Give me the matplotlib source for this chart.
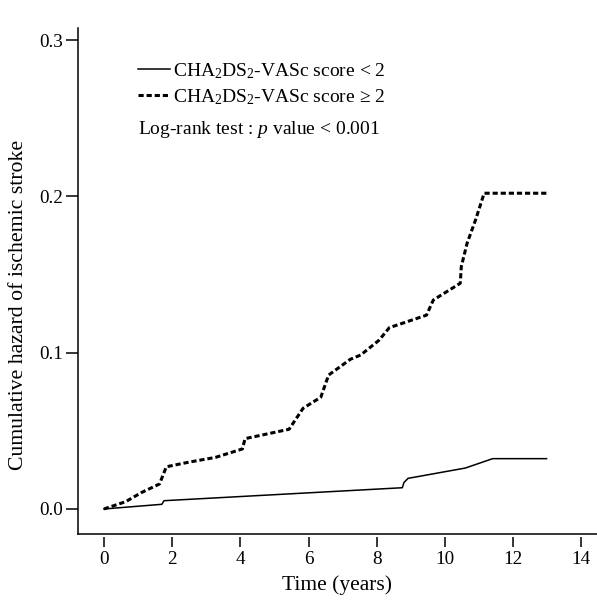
import matplotlib
matplotlib.use("Agg")
import matplotlib.pyplot as plt
from matplotlib.lines import Line2D

plt.rcParams['font.family'] = ['Liberation Serif', 'DejaVu Serif']
plt.rcParams['mathtext.fontset'] = 'custom'
plt.rcParams['mathtext.rm'] = 'Liberation Serif'
plt.rcParams['mathtext.it'] = 'Liberation Serif:italic'

# cumulative hazard, CHA2DS2-VASc < 2
low_t = [0, 1.70, 1.76, 8.75, 8.80, 8.92, 10.6, 11.4, 12.98]
low_v = [0, 0.003, 0.0053, 0.0136, 0.0170, 0.0196, 0.0262, 0.0322, 0.0322]

# cumulative hazard, CHA2DS2-VASc >= 2
high_t = [0, 0.64, 1.09, 1.63, 1.83, 2.5, 3.27, 4.06, 4.14, 5.43, 5.84, 6.36,
          6.59, 7.23, 7.53, 8.07, 8.37, 9.46, 9.66, 10.45, 10.48, 10.65, 10.9,
          11.15, 12.98]
high_v = [0, 0.0047, 0.0104, 0.016, 0.027, 0.030, 0.033, 0.0384, 0.045, 0.051,
          0.0644, 0.0715, 0.0857, 0.0958, 0.0985, 0.108, 0.116, 0.124, 0.1337,
          0.1444, 0.155, 0.170, 0.185, 0.202, 0.202]

xticks = [0, 2, 4, 6, 8, 10, 12, 14]
yticks = [0.0, 0.1, 0.2, 0.3]

fig = plt.figure(figsize=(5.97, 6.01), dpi=100)
ax = fig.add_axes([78/597, 67/601, 519/597, 506/601])

ax.plot(low_t, low_v, color='black', lw=1.1, solid_joinstyle='round')
ax.plot(high_t, high_v, color='black', lw=2.2, dashes=(1.7, 0.95))

ax.set_xlim(-0.76, 14.46)
ax.set_ylim(-0.016, 0.3077)
ax.set_xticks(xticks)
ax.set_yticks(yticks)
ax.set_yticklabels(["{:0.1f}".format(v) for v in yticks])

for s in ['top', 'right']:
    ax.spines[s].set_visible(False)
ax.spines['left'].set_linewidth(1.1)
# x ticks sit a little below the frame line
ax.spines['bottom'].set_visible(False)
ax.spines['bottom'].set_position(('outward', 2))
ax.plot([0, 1], [0, 0], transform=ax.transAxes, color='black', lw=1.1,
        clip_on=False)

ax.tick_params(axis='both', direction='out', width=1.1, labelsize=13.8,
               colors='black')
ax.tick_params(axis='y', length=9, pad=1.5)
ax.tick_params(axis='x', length=7.5, pad=3)

ax.set_xlabel("Time (years)", fontsize=15.5, labelpad=5)
ax.set_ylabel("Cumulative hazard of ischemic stroke", fontsize=15.7, labelpad=8)
ax.yaxis.label.set_y(0.453)

handles = [Line2D([], [], color='black', lw=1.1),
           Line2D([], [], color='black', lw=2.2, dashes=(1.7, 0.95))]
labels = ["CHA$_2$DS$_2$-VASc score < 2", "CHA$_2$DS$_2$-VASc score \u2265 2"]
ax.legend(handles, labels, loc='upper left', bbox_to_anchor=(0.1, 0.95),
          frameon=False, fontsize=14, handlelength=1.65, handletextpad=0.15,
          labelspacing=0.33, borderaxespad=0)
ax.text(0.115, 0.80, "Log-rank test : $p$ value < 0.001", transform=ax.transAxes,
        fontsize=14, va='center', ha='left')

fig.savefig("out.png", dpi=100)
